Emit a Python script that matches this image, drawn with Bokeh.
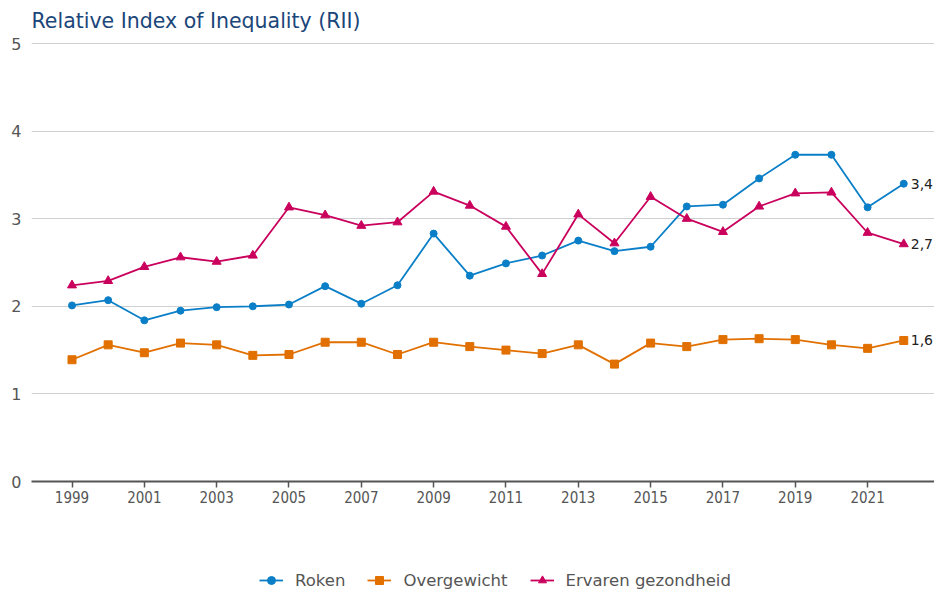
from bokeh.plotting import figure
from bokeh.layouts import column
from bokeh.models import ColumnDataSource, FixedTicker, Legend, LegendItem, Range1d
from bokeh.core.properties import value
from bokeh.embed import file_html
from bokeh.resources import INLINE

years = list(range(1999, 2023))
roken = [2.01, 2.07, 1.84, 1.95, 1.99, 2.00, 2.02, 2.23, 2.03, 2.24, 2.83, 2.35,
         2.49, 2.58, 2.75, 2.63, 2.68, 3.14, 3.16, 3.46, 3.73, 3.73, 3.13, 3.40]
overgewicht = [1.39, 1.56, 1.47, 1.58, 1.56, 1.44, 1.45, 1.59, 1.59, 1.45, 1.59, 1.54,
               1.50, 1.46, 1.56, 1.34, 1.58, 1.54, 1.62, 1.63, 1.62, 1.56, 1.52, 1.61]
ervaren = [2.24, 2.29, 2.45, 2.56, 2.51, 2.58, 3.13, 3.04, 2.92, 2.96, 3.31, 3.15,
           2.91, 2.37, 3.05, 2.72, 3.25, 3.00, 2.85, 3.14, 3.29, 3.30, 2.84, 2.71]
series_names = ["Roken", "Overgewicht", "Ervaren gezondheid"]
x_ticks = list(range(1999, 2022, 2))
y_ticks = [0, 1, 2, 3, 4, 5]

colors = ["#0a7fc8", "#e17000", "#ca005d"]
markers = ["circle", "square", "triangle"]
sizes = [7, 8, 9]
FONT = "DejaVu Sans"

p = figure(width=934, height=540, output_backend="svg", toolbar_location=None,
           x_range=Range1d(1997.88, 2022.85), y_range=Range1d(0, 5.046),
           title="Relative Index of Inequality (RII)")
p.min_border_left = 31
p.min_border_right = 0
p.min_border_top = 39
p.min_border_bottom = 59
p.outline_line_color = None

p.title.text_font = FONT
p.title.text_font_size = "20.5px"
p.title.text_font_style = "normal"
p.title.text_color = "#1b4679"
p.title.align = "left"
p.title.standoff = 13

p.xgrid.grid_line_color = None
p.ygrid.grid_line_color = "#d0d0d0"
p.ygrid.grid_line_width = 1

p.yaxis.ticker = FixedTicker(ticks=y_ticks)
p.yaxis.axis_line_color = None
p.yaxis.major_tick_line_color = None
p.yaxis.major_tick_out = 0
p.yaxis.major_tick_in = 0
p.yaxis.minor_tick_line_color = None
p.yaxis.major_label_text_font = FONT
p.yaxis.major_label_text_font_size = "16px"
p.yaxis.major_label_text_color = "#555555"
p.yaxis.major_label_standoff = 10

p.xaxis.ticker = FixedTicker(ticks=x_ticks)
p.xaxis.axis_line_color = "#555555"
p.xaxis.axis_line_width = 2
p.xaxis.major_tick_line_color = "#555555"
p.xaxis.major_tick_line_width = 1.5
p.xaxis.major_tick_out = 6
p.xaxis.major_tick_in = 0
p.xaxis.minor_tick_line_color = None
p.xaxis.major_label_text_font = "DejaVu Sans Condensed"
p.xaxis.major_label_text_font_size = "15px"
p.xaxis.major_label_text_color = "#555555"
p.xaxis.major_label_standoff = 3

for name, vals, c, m, s in zip(series_names, [roken, overgewicht, ervaren], colors, markers, sizes):
    src = ColumnDataSource(dict(x=years, y=vals))
    p.line("x", "y", source=src, line_color=c, line_width=1.8)
    p.scatter("x", "y", source=src, marker=m, size=s, fill_color=c, line_color=c)

end_vals = [roken[-1], ervaren[-1], overgewicht[-1]]
end_src = ColumnDataSource(dict(
    x=[years[-1]] * 3, y=end_vals,
    t=[f"{v:.1f}".replace(".", ",") for v in end_vals]))
p.text("x", "y", text="t", source=end_src, x_offset=7, text_baseline="middle",
       text_font=value(FONT), text_font_size="14px", text_color="#222222")

# Legend figure (glyph renderers lie outside its visible range; only the legend shows)
lp = figure(width=934, height=50, output_backend="svg", toolbar_location=None,
            x_range=Range1d(0, 1), y_range=Range1d(0, 1))
lp.min_border = 0
lp.outline_line_color = None
lp.axis.visible = False
lp.grid.visible = False
items = []
for name, vals, c, m, s in zip(series_names, [roken, overgewicht, ervaren], colors, markers, sizes):
    src = ColumnDataSource(dict(x=years, y=vals))
    r1 = lp.line("x", "y", source=src, line_color=c, line_width=1.8)
    r2 = lp.scatter("x", "y", source=src, marker=m, size=s - 1, fill_color=c, line_color=c)
    items.append(LegendItem(label=name, renderers=[r1, r2]))

legend = Legend(items=items, orientation="horizontal", location=(228, 0))
legend.label_text_font = FONT
legend.label_text_font_size = "16.5px"
legend.label_text_color = "#555555"
legend.border_line_color = None
legend.background_fill_alpha = 0
legend.glyph_width = 24
legend.glyph_height = 20
legend.spacing = 22
legend.label_standoff = 12
legend.margin = 0
legend.padding = 0
lp.add_layout(legend, "center")

layout = column(p, lp, spacing=0)
open("out.html", "w").write(file_html(layout, INLINE))
